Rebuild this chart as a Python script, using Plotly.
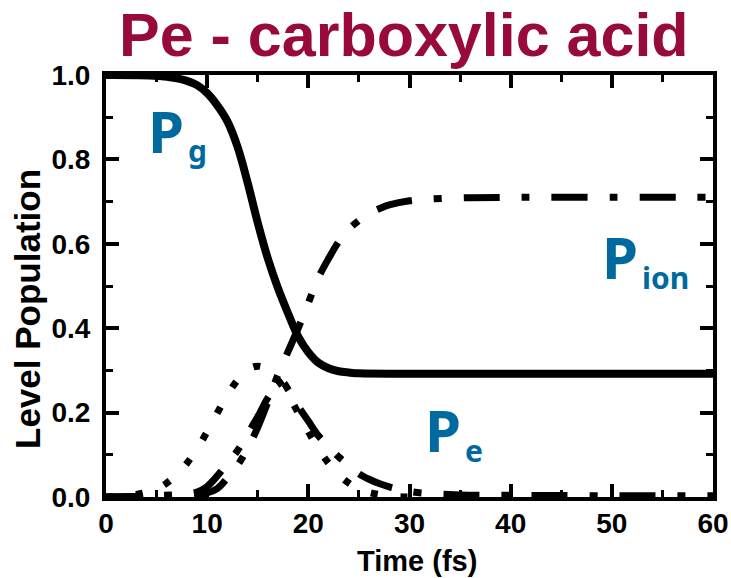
import plotly.graph_objects as go

# Time grid (fs) and level populations
t_g = [0, 5, 7, 8, 9, 10, 11, 12, 13, 14, 15, 16, 17, 18, 19, 20, 21, 22, 23, 24, 25, 30, 40, 60]
p_g = [1.0, 0.998, 0.992, 0.986, 0.976, 0.957, 0.928, 0.89, 0.83, 0.745, 0.65, 0.565, 0.495,
       0.435, 0.38, 0.343, 0.318, 0.305, 0.298, 0.295, 0.293, 0.292, 0.292, 0.292]

t_ion = [0, 5, 8, 10, 11, 12, 13, 14, 15, 16, 17, 18, 19, 20, 21, 22, 23, 24, 25, 26, 27,
         28, 30, 32, 35, 40, 60]
p_ion = [0.0, 0.002, 0.004, 0.01, 0.02, 0.045, 0.075, 0.115, 0.165, 0.225, 0.29, 0.345, 0.40,
         0.46, 0.52, 0.565, 0.605, 0.635, 0.655, 0.672, 0.683, 0.692, 0.702, 0.706, 0.709,
         0.71, 0.71]

t_e = [0, 5, 8, 9, 10, 11, 12, 13, 14, 15, 16, 17, 17.5, 18, 19, 20, 21, 22, 23, 24, 25, 26,
       27, 28, 29, 30, 32, 35, 40, 50, 60]
p_e = [0.0, 0.003, 0.008, 0.012, 0.025, 0.05, 0.08, 0.11, 0.15, 0.19, 0.235, 0.265, 0.27,
       0.255, 0.215, 0.18, 0.145, 0.12, 0.095, 0.075, 0.055, 0.042, 0.032, 0.024, 0.018,
       0.013, 0.008, 0.005, 0.004, 0.003, 0.003]

# Laser pulse envelope (dotted)
t_pulse = [0, 2, 3, 4, 5, 6, 7, 8, 9, 10, 11, 12, 13, 14, 15, 16, 17, 18, 19, 20, 21, 22,
           23, 24, 25, 26, 27, 28, 29, 30]
pulse = [0.0, 0.003, 0.006, 0.011, 0.019, 0.033, 0.053, 0.08, 0.114, 0.155, 0.199, 0.242,
         0.277, 0.302, 0.31, 0.302, 0.277, 0.242, 0.199, 0.155, 0.114, 0.08, 0.053, 0.033,
         0.019, 0.011, 0.006, 0.003, 0.001, 0.0]

x_ticks = [0, 10, 20, 30, 40, 50, 60]
y_ticks = [0.0, 0.2, 0.4, 0.6, 0.8, 1.0]

fig = go.Figure()
fig.add_trace(go.Scatter(x=t_pulse, y=pulse, mode="lines",
                         line=dict(color="black", width=7, dash="7px,23px", shape="spline")))
fig.add_trace(go.Scatter(x=t_e, y=p_e, mode="lines",
                         line=dict(color="black", width=7, dash="36px,22px,8px,22px",
                                   shape="spline")))
fig.add_trace(go.Scatter(x=t_ion, y=p_ion, mode="lines",
                         line=dict(color="black", width=7, dash="36px,22px,8px,22px",
                                   shape="spline")))
fig.add_trace(go.Scatter(x=t_g, y=p_g, mode="lines",
                         line=dict(color="black", width=8, shape="spline")))

arial = "Liberation Sans, Arial, sans-serif"
tick_font = dict(family=arial, size=28, color="black", weight="bold")
axis_style = dict(showgrid=False, zeroline=False, showline=True, linecolor="black",
                  linewidth=4, mirror="allticks", ticks="inside", ticklen=13, tickwidth=4,
                  tickcolor="black", tickfont=tick_font, automargin=False)

fig.update_xaxes(range=[0, 60], tickvals=x_ticks, ticktext=[str(v) for v in x_ticks],
                 ticklabelstandoff=-2,
                 minor=dict(dtick=5, tick0=0, ticks="inside", ticklen=7, tickwidth=3,
                            tickcolor="black"),
                 **axis_style)
fig.update_yaxes(range=[0, 1.0], tickvals=y_ticks, ticktext=[f"{v:.1f}" for v in y_ticks],
                 ticklabelstandoff=6,
                 minor=dict(dtick=0.1, tick0=0, ticks="inside", ticklen=7, tickwidth=3,
                            tickcolor="black"),
                 **axis_style)

# Axis titles
fig.add_annotation(x=0.512, y=-0.152, xref="paper", yref="paper", text="Time (fs)",
                   showarrow=False, xanchor="center", yanchor="middle",
                   font=dict(family=arial, size=29, color="black", weight="bold"))
fig.add_annotation(x=-0.1285, y=0.4455, xref="paper", yref="paper", text="Level Population",
                   showarrow=False, xanchor="center", yanchor="middle", textangle=-90,
                   font=dict(family=arial, size=35, color="black", weight="bold"))

# Curve labels: a large "P" ending where its subscript begins
blue = "#006A9F"
label_font = "Noto Sans, Lato, sans-serif"
labels = [
    # (subscript, x where P ends / subscript starts, y of P box bottom, y of subscript box bottom)
    ("g", 7.9, 0.770, 0.768),
    ("ion", 52.8, 0.471, 0.467),
    ("e", 35.3, 0.062, 0.057),
]
for sub, x, y_p, y_sub in labels:
    fig.add_annotation(x=x, y=y_p, xref="x", yref="y", text="P", showarrow=False,
                       xanchor="right", yanchor="bottom",
                       font=dict(family=label_font, size=58, color=blue, weight="bold"))
    fig.add_annotation(x=x, y=y_sub, xref="x", yref="y", text=sub, showarrow=False,
                       xanchor="left", yanchor="bottom",
                       font=dict(family=label_font, size=30, color=blue, weight="bold"))

fig.add_annotation(x=0.491, y=1.0, xref="paper", yref="paper", yshift=4,
                   text="Pe - carboxylic acid", showarrow=False,
                   xanchor="center", yanchor="bottom",
                   font=dict(family=arial, size=61, color="#990A3C", weight="bold"))

fig.update_layout(width=731, height=578, showlegend=False,
                  plot_bgcolor="white", paper_bgcolor="white",
                  margin=dict(l=106, r=18, t=75, b=81))

fig.write_html("out.html")
